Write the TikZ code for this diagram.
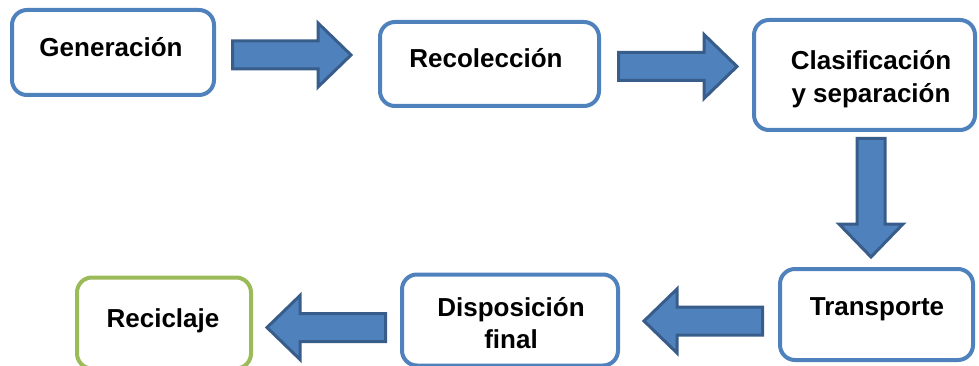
\documentclass[tikz,border=0pt]{standalone}
\usepackage{fontspec}
\setmainfont{Liberation Sans}
\usetikzlibrary{calc}
\definecolor{azul}{RGB}{79,129,189}
\definecolor{azulosc}{RGB}{56,93,138}
\definecolor{verde}{RGB}{155,187,89}

\begin{document}
\begin{tikzpicture}[x=1pt,y=-1pt,
caja/.style={draw=azul,line width=4pt,rounded corners=15pt,fill=white,inner sep=0pt},
texto/.style={font=\bfseries\fontsize{26}{32}\selectfont,align=center,inner sep=0pt},
flecha/.pic={\draw[fill=azul,draw=azulosc,line width=3pt] (0,-14) -- (85.5,-14) -- (85.5,-32) -- (118.5,0) -- (85.5,32) -- (85.5,14) -- (0,14) -- cycle;},
%scale=0.75
]
\useasboundingbox (0,0) rectangle (979,366);
\clip (0,0) rectangle (979,366);

% cajas
\node[caja,minimum width=202pt,minimum height=85pt] (gen) at (113,52.5) {};
\node[caja,minimum width=219pt,minimum height=84pt] (rec) at (489.5,64) {};
\node[caja,minimum width=221pt,minimum height=110pt] (cla) at (864.5,75) {};
\node[caja,minimum width=193pt,minimum height=91pt] (tra) at (876.5,314.5) {};
\node[caja,minimum width=216pt,minimum height=91pt] (dis) at (510,320) {};
\node[caja,draw=verde,minimum width=174pt,minimum height=91pt] (reci) at (164,323) {};

% textos
\node[texto] (tgen) at (111,47.5) {Generación};
\node[texto] (trec) at (486,58.5) {Recolección};
\node[texto,font=\bfseries\fontsize{26}{33}\selectfont] (tcla) at (871,79) {Clasificación\\y separación};
\node[texto] (ttra) at (877,309.5) {Transporte};
\node[texto] (tdis) at (511,323.5) {Disposición\\final};
\node[texto] (treci) at (163,321) {Reciclaje};

% flechas
\pic at (232.5,55) {flecha};
\pic at (618.5,66.5) {flecha};
\pic[rotate=-90] at (871,138.5) {flecha};
\pic[rotate=180] at (762.5,321) {flecha};
\pic[rotate=180] at (385.5,327.5) {flecha};

\end{tikzpicture}
\end{document}
